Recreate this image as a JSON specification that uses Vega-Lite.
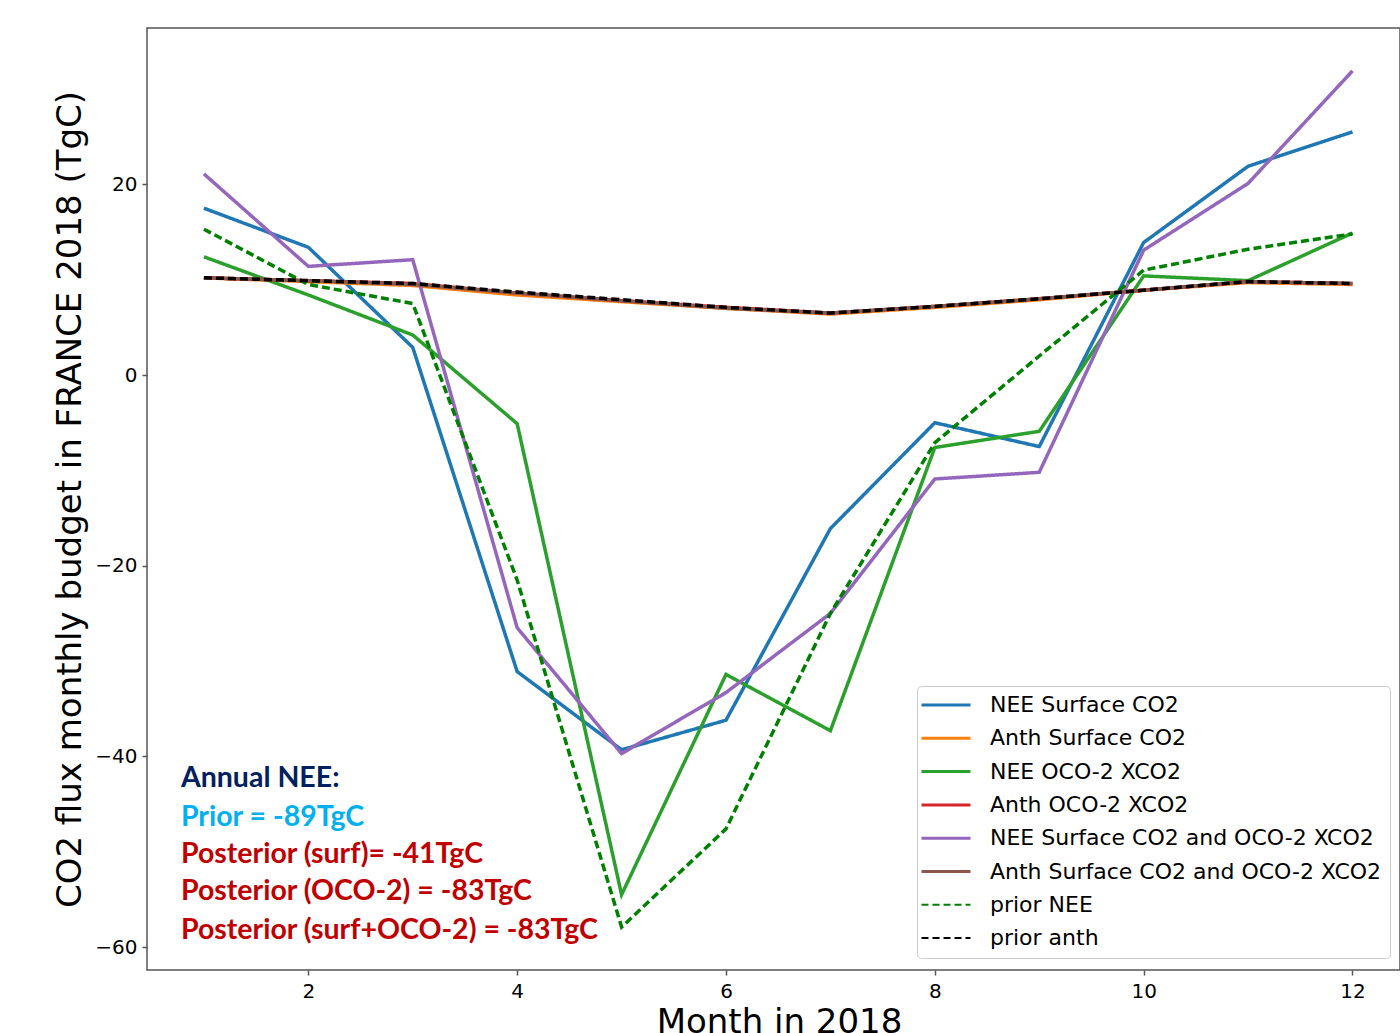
{
  "$schema": "https://vega.github.io/schema/vega-lite/v6.json",
  "width": 1253,
  "height": 942,
  "autosize": {"type": "none"},
  "padding": {"left": 147, "top": 28, "right": 0, "bottom": 63},
  "background": "white",
  "config": {
    "view": {"stroke": "#555", "strokeWidth": 1.5},
    "axis": {"grid": false, "domain": false, "labelFont": "DejaVu Sans", "labelFontSize": 20, "labelColor": "#000", "tickColor": "#555", "tickSize": 5, "tickWidth": 1.5, "titleFont": "DejaVu Sans", "titleFontWeight": "normal", "titleColor": "#000", "titleFontSize": 34}
  },
  "datasets": {
    "series": [
      {"month": 1, "value": 17.5, "series": "NEE Surface CO2"},
      {"month": 2, "value": 13.4, "series": "NEE Surface CO2"},
      {"month": 3, "value": 2.9, "series": "NEE Surface CO2"},
      {"month": 4, "value": -31.1, "series": "NEE Surface CO2"},
      {"month": 5, "value": -39.3, "series": "NEE Surface CO2"},
      {"month": 6, "value": -36.2, "series": "NEE Surface CO2"},
      {"month": 7, "value": -16.1, "series": "NEE Surface CO2"},
      {"month": 8, "value": -5.0, "series": "NEE Surface CO2"},
      {"month": 9, "value": -7.5, "series": "NEE Surface CO2"},
      {"month": 10, "value": 13.9, "series": "NEE Surface CO2"},
      {"month": 11, "value": 21.9, "series": "NEE Surface CO2"},
      {"month": 12, "value": 25.5, "series": "NEE Surface CO2"},
      {"month": 1, "value": 10.2, "series": "Anth Surface CO2"},
      {"month": 2, "value": 9.8, "series": "Anth Surface CO2"},
      {"month": 3, "value": 9.4, "series": "Anth Surface CO2"},
      {"month": 4, "value": 8.4, "series": "Anth Surface CO2"},
      {"month": 5, "value": 7.7, "series": "Anth Surface CO2"},
      {"month": 6, "value": 7.0, "series": "Anth Surface CO2"},
      {"month": 7, "value": 6.4, "series": "Anth Surface CO2"},
      {"month": 8, "value": 7.1, "series": "Anth Surface CO2"},
      {"month": 9, "value": 7.9, "series": "Anth Surface CO2"},
      {"month": 10, "value": 8.9, "series": "Anth Surface CO2"},
      {"month": 11, "value": 9.7, "series": "Anth Surface CO2"},
      {"month": 12, "value": 9.5, "series": "Anth Surface CO2"},
      {"month": 1, "value": 12.4, "series": "NEE OCO-2 XCO2"},
      {"month": 2, "value": 8.4, "series": "NEE OCO-2 XCO2"},
      {"month": 3, "value": 4.2, "series": "NEE OCO-2 XCO2"},
      {"month": 4, "value": -5.1, "series": "NEE OCO-2 XCO2"},
      {"month": 5, "value": -54.5, "series": "NEE OCO-2 XCO2"},
      {"month": 6, "value": -31.4, "series": "NEE OCO-2 XCO2"},
      {"month": 7, "value": -37.3, "series": "NEE OCO-2 XCO2"},
      {"month": 8, "value": -7.6, "series": "NEE OCO-2 XCO2"},
      {"month": 9, "value": -5.9, "series": "NEE OCO-2 XCO2"},
      {"month": 10, "value": 10.4, "series": "NEE OCO-2 XCO2"},
      {"month": 11, "value": 9.9, "series": "NEE OCO-2 XCO2"},
      {"month": 12, "value": 14.9, "series": "NEE OCO-2 XCO2"},
      {"month": 1, "value": 10.2, "series": "Anth OCO-2 XCO2"},
      {"month": 2, "value": 9.9, "series": "Anth OCO-2 XCO2"},
      {"month": 3, "value": 9.6, "series": "Anth OCO-2 XCO2"},
      {"month": 4, "value": 8.6, "series": "Anth OCO-2 XCO2"},
      {"month": 5, "value": 7.8, "series": "Anth OCO-2 XCO2"},
      {"month": 6, "value": 7.1, "series": "Anth OCO-2 XCO2"},
      {"month": 7, "value": 6.5, "series": "Anth OCO-2 XCO2"},
      {"month": 8, "value": 7.2, "series": "Anth OCO-2 XCO2"},
      {"month": 9, "value": 8.0, "series": "Anth OCO-2 XCO2"},
      {"month": 10, "value": 8.9, "series": "Anth OCO-2 XCO2"},
      {"month": 11, "value": 9.8, "series": "Anth OCO-2 XCO2"},
      {"month": 12, "value": 9.6, "series": "Anth OCO-2 XCO2"},
      {"month": 1, "value": 21.1, "series": "NEE Surface CO2 and OCO-2 XCO2"},
      {"month": 2, "value": 11.4, "series": "NEE Surface CO2 and OCO-2 XCO2"},
      {"month": 3, "value": 12.1, "series": "NEE Surface CO2 and OCO-2 XCO2"},
      {"month": 4, "value": -26.5, "series": "NEE Surface CO2 and OCO-2 XCO2"},
      {"month": 5, "value": -39.7, "series": "NEE Surface CO2 and OCO-2 XCO2"},
      {"month": 6, "value": -33.3, "series": "NEE Surface CO2 and OCO-2 XCO2"},
      {"month": 7, "value": -25.0, "series": "NEE Surface CO2 and OCO-2 XCO2"},
      {"month": 8, "value": -10.9, "series": "NEE Surface CO2 and OCO-2 XCO2"},
      {"month": 9, "value": -10.2, "series": "NEE Surface CO2 and OCO-2 XCO2"},
      {"month": 10, "value": 13.1, "series": "NEE Surface CO2 and OCO-2 XCO2"},
      {"month": 11, "value": 20.1, "series": "NEE Surface CO2 and OCO-2 XCO2"},
      {"month": 12, "value": 31.9, "series": "NEE Surface CO2 and OCO-2 XCO2"},
      {"month": 1, "value": 10.2, "series": "Anth Surface CO2 and OCO-2 XCO2"},
      {"month": 2, "value": 9.9, "series": "Anth Surface CO2 and OCO-2 XCO2"},
      {"month": 3, "value": 9.5, "series": "Anth Surface CO2 and OCO-2 XCO2"},
      {"month": 4, "value": 8.6, "series": "Anth Surface CO2 and OCO-2 XCO2"},
      {"month": 5, "value": 7.8, "series": "Anth Surface CO2 and OCO-2 XCO2"},
      {"month": 6, "value": 7.0, "series": "Anth Surface CO2 and OCO-2 XCO2"},
      {"month": 7, "value": 6.5, "series": "Anth Surface CO2 and OCO-2 XCO2"},
      {"month": 8, "value": 7.2, "series": "Anth Surface CO2 and OCO-2 XCO2"},
      {"month": 9, "value": 8.0, "series": "Anth Surface CO2 and OCO-2 XCO2"},
      {"month": 10, "value": 8.9, "series": "Anth Surface CO2 and OCO-2 XCO2"},
      {"month": 11, "value": 9.8, "series": "Anth Surface CO2 and OCO-2 XCO2"},
      {"month": 12, "value": 9.6, "series": "Anth Surface CO2 and OCO-2 XCO2"},
      {"month": 1, "value": 15.3, "series": "prior NEE"},
      {"month": 2, "value": 9.5, "series": "prior NEE"},
      {"month": 3, "value": 7.5, "series": "prior NEE"},
      {"month": 4, "value": -21.5, "series": "prior NEE"},
      {"month": 5, "value": -57.9, "series": "prior NEE"},
      {"month": 6, "value": -47.6, "series": "prior NEE"},
      {"month": 7, "value": -25.0, "series": "prior NEE"},
      {"month": 8, "value": -7.1, "series": "prior NEE"},
      {"month": 9, "value": 2.0, "series": "prior NEE"},
      {"month": 10, "value": 11.0, "series": "prior NEE"},
      {"month": 11, "value": 13.2, "series": "prior NEE"},
      {"month": 12, "value": 14.8, "series": "prior NEE"},
      {"month": 1, "value": 10.2, "series": "prior anth"},
      {"month": 2, "value": 9.9, "series": "prior anth"},
      {"month": 3, "value": 9.6, "series": "prior anth"},
      {"month": 4, "value": 8.7, "series": "prior anth"},
      {"month": 5, "value": 7.9, "series": "prior anth"},
      {"month": 6, "value": 7.1, "series": "prior anth"},
      {"month": 7, "value": 6.5, "series": "prior anth"},
      {"month": 8, "value": 7.2, "series": "prior anth"},
      {"month": 9, "value": 8.0, "series": "prior anth"},
      {"month": 10, "value": 8.9, "series": "prior anth"},
      {"month": 11, "value": 9.8, "series": "prior anth"},
      {"month": 12, "value": 9.6, "series": "prior anth"}
    ],
    "notes": [
      {"x": 0.78, "y": -43.2, "label": "Annual NEE:", "kind": "heading"},
      {"x": 0.78, "y": -47.3, "label": "Prior = -89TgC", "kind": "prior"},
      {"x": 0.78, "y": -51.2, "label": "Posterior (surf)= -41TgC", "kind": "posterior"},
      {"x": 0.78, "y": -55.1, "label": "Posterior (OCO-2) = -83TgC", "kind": "posterior"},
      {"x": 0.78, "y": -59.1, "label": "Posterior (surf+OCO-2) = -83TgC", "kind": "posterior"}
    ]
  },
  "layer": [
    {
      "data": {"name": "series"},
      "mark": {"type": "line", "clip": true},
      "encoding": {
        "x": {"field": "month", "type": "quantitative", "scale": {"domain": [0.455, 12.455], "nice": false, "zero": false},
              "axis": {"values": [2, 4, 6, 8, 10, 12], "format": "d", "title": "Month in 2018", "labelPadding": 6, "titleBaseline": "alphabetic", "titleY": 62, "titleX": 632, "titleAnchor": "middle", "titleAlign": "center"}},
        "y": {"field": "value", "type": "quantitative", "scale": {"domain": [-62.4, 36.4], "nice": false, "zero": false},
              "axis": {"values": [-60, -40, -20, 0, 20], "format": "d", "title": "CO2 flux monthly budget in FRANCE 2018 (TgC)", "labelPadding": 5, "titleBaseline": "alphabetic", "titleX": -67, "titleY": 471, "titleAngle": -90, "titleAlign": "center"}},
        "color": {"field": "series", "type": "nominal",
          "scale": {"domain": ["NEE Surface CO2", "Anth Surface CO2", "NEE OCO-2 XCO2", "Anth OCO-2 XCO2", "NEE Surface CO2 and OCO-2 XCO2", "Anth Surface CO2 and OCO-2 XCO2", "prior NEE", "prior anth"],
                    "range": ["#1f77b4", "#ff7f0e", "#2ca02c", "#d62728", "#9467bd", "#8c564b", "#008000", "#000000"]},
          "legend": {"title": null, "orient": "none", "legendX": 770, "legendY": 658, "symbolType": "M-2,0H2", "symbolSize": 600, "labelFont": "DejaVu Sans", "labelFontSize": 22, "labelColor": "#000", "padding": 8, "rowPadding": 11.3, "symbolOffset": 10, "labelOffset": 33, "fillColor": "white", "strokeColor": "#cccccc", "cornerRadius": 4, "labelLimit": 700,
            "encode": {"symbols": {"update": {
              "strokeDash": {"signal": "indexof(['prior NEE','prior anth'], datum.value) >= 0 ? [7,4] : [1,0]"},
              "strokeWidth": {"signal": "indexof(['prior NEE','prior anth'], datum.value) >= 0 ? 2 : 3"}
            }}}}},
        "strokeDash": {"field": "series", "type": "nominal",
          "scale": {"domain": ["NEE Surface CO2", "Anth Surface CO2", "NEE OCO-2 XCO2", "Anth OCO-2 XCO2", "NEE Surface CO2 and OCO-2 XCO2", "Anth Surface CO2 and OCO-2 XCO2", "prior NEE", "prior anth"],
                    "range": [[1, 0], [1, 0], [1, 0], [1, 0], [1, 0], [1, 0], [8, 4], [8, 4]]},
          "legend": null},
        "strokeWidth": {"field": "series", "type": "nominal",
          "scale": {"domain": ["NEE Surface CO2", "Anth Surface CO2", "NEE OCO-2 XCO2", "Anth OCO-2 XCO2", "NEE Surface CO2 and OCO-2 XCO2", "Anth Surface CO2 and OCO-2 XCO2", "prior NEE", "prior anth"],
                    "range": [3.5, 3.5, 3.5, 3.5, 3.5, 3.5, 2.2, 2.2]},
          "legend": null}
      }
    },
    {
      "data": {"name": "notes"},
      "mark": {"type": "text", "align": "left", "baseline": "alphabetic", "font": "Lato", "fontWeight": "bold", "fontSize": 28.5},
      "encoding": {
        "x": {"field": "x", "type": "quantitative"},
        "y": {"field": "y", "type": "quantitative"},
        "text": {"field": "label"},
        "color": {"field": "kind", "type": "nominal", "scale": {"domain": ["heading", "prior", "posterior"], "range": ["#002060", "#00b0f0", "#c00000"]}, "legend": null}
      }
    }
  ],
  "resolve": {"scale": {"color": "independent"}}
}
